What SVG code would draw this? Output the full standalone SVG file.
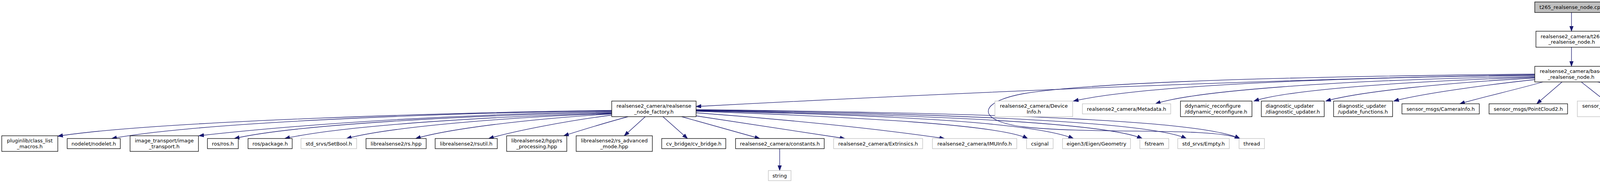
<svg xmlns="http://www.w3.org/2000/svg" width="5457" height="469" viewBox="0 0 5457 469">
<style>
.n rect{fill:#ffffff;stroke:#000000;stroke-width:1.3}
.g rect{fill:#ffffff;stroke:#bfbfbf;stroke-width:1.3}
.root rect{fill:#bfbfbf;stroke:#000000;stroke-width:1.3}
text{font-family:"DejaVu Sans","Liberation Sans",sans-serif;font-size:12.9px;fill:#000000;text-anchor:middle}
text.l{text-anchor:start}
#edges path{fill:none;stroke:#191970;stroke-width:1.3;marker-end:url(#ah)}
</style>
<defs>
<marker id="ah" markerUnits="userSpaceOnUse" markerWidth="16" markerHeight="12" refX="13" refY="5" orient="auto" viewBox="0 0 16 12">
<path d="M0,0.3 L13,5 L0,9.7 z" fill="#191970" stroke="#191970" stroke-width="1"/>
</marker>
</defs>
<rect x="0" y="0" width="5457" height="469" fill="#ffffff"/>
<g id="edges">
<path d="M4023,32 L4023,80"/>
<path d="M4023,121 L4023,170"/>
<path d="M3929,192 C3300,200 2400,240 1782,273"/>
<path d="M3929,190 C3300,196 2800,210 2620,240 C2500,262 2500,310 2620,325 C2800,345 3100,325 3174,355"/>
<path d="M3929,193 C3300,200 2900,225 2748,259"/>
<path d="M3929,196 C3400,205 3050,235 2958,266"/>
<path d="M3929,198 C3600,208 3300,230 3210,259"/>
<path d="M3929,200 C3700,212 3480,235 3394,259"/>
<path d="M3929,204 C3800,218 3640,240 3568,259"/>
<path d="M3950,210 C3880,230 3790,250 3737,266"/>
<path d="M3999,210 L3934,266"/>
<path d="M4048,210 L4110,259"/>
<path d="M4090,210 C4160,230 4230,250 4285,266"/>
<path d="M4115,207 C4250,225 4390,248 4452,266"/>
<path d="M4115,201 C4350,215 4580,240 4649,266"/>
<path d="M4115,197 C4450,210 4750,232 4833,259"/>
<path d="M4115,195 C4600,203 4980,225 5062,266"/>
<path d="M4115,193 C4700,198 5150,220 5214,266"/>
<path d="M4115,192 C4800,197 5240,220 5302,266"/>
<path d="M4115,191 C4900,195 5330,220 5390,266"/>
<path d="M1566,283 C1200,287 400,310 148,349"/>
<path d="M1566,284 C1100,290 500,315 286,355"/>
<path d="M1566,286 C1200,292 800,315 509,348"/>
<path d="M1566,288 C1200,295 750,320 600,355"/>
<path d="M1566,290 C1300,297 900,318 729,355"/>
<path d="M1566,291 C1300,300 1000,325 887,355"/>
<path d="M1566,292 C1350,305 1150,330 1064,355"/>
<path d="M1566,295 C1450,310 1320,335 1251,355"/>
<path d="M1608,299 C1560,312 1490,333 1443,348"/>
<path d="M1652,299 L1598,348"/>
<path d="M1697,299 L1760,355"/>
<path d="M1745,299 L1945,355"/>
<path d="M1782,297 L2163,355"/>
<path d="M1782,289 C2000,305 2250,330 2418,355"/>
<path d="M1782,285 C2200,300 2560,320 2631,355"/>
<path d="M1782,284 C2300,295 2650,315 2748,355"/>
<path d="M1782,283 C2400,295 2830,315 2924,355"/>
<path d="M1782,282 C2500,292 2950,315 3037,355"/>
<path d="M1782,281 C2600,290 3080,310 3174,355"/>
<path d="M1996,381 L1996,437"/>
</g>
<g id="node_root" class="root"><rect x="3929" y="5" width="188" height="27"/><text x="4023" y="23">t265_realsense_node.cpp</text></g>
<g id="node_t265" class="n"><rect x="3932" y="80" width="183" height="41"/><text x="4023.5" y="97.5">realsense2_camera/t265</text><text x="4023.5" y="111.5">_realsense_node.h</text></g>
<g id="node_base" class="n"><rect x="3929" y="170" width="186" height="40"/><text x="4022" y="186.5">realsense2_camera/base</text><text x="4022" y="201.5">_realsense_node.h</text></g>
<g id="node_factory" class="n"><rect x="1566" y="259" width="216" height="40"/><text x="1674" y="275.5">realsense2_camera/realsense</text><text x="1674" y="290.5">_node_factory.h</text></g>
<g id="node_deviceinfo" class="g"><rect x="2547" y="259" width="199" height="40"/><text x="2646.5" y="275.5">realsense2_camera/Device</text><text x="2646.5" y="290.5">Info.h</text></g>
<g id="node_metadata" class="g"><rect x="2771" y="266" width="226" height="26"/><text x="2884" y="283.5">realsense2_camera/Metadata.h</text></g>
<g id="node_ddynamic" class="n"><rect x="3022" y="259" width="183" height="40"/><text class="l" x="3033" y="275.5">ddynamic_reconfigure</text><text class="l" x="3033" y="290.5">/ddynamic_reconfigure.h</text></g>
<g id="node_diag" class="n"><rect x="3229" y="259" width="161" height="40"/><text class="l" x="3240" y="275.5">diagnostic_updater</text><text class="l" x="3240" y="290.5">/diagnostic_updater.h</text></g>
<g id="node_updatefn" class="n"><rect x="3414" y="259" width="151" height="40"/><text class="l" x="3425" y="275.5">diagnostic_updater</text><text class="l" x="3425" y="290.5">/update_functions.h</text></g>
<g id="node_camerainfo" class="n"><rect x="3589" y="266" width="198" height="26"/><text x="3688" y="283.5">sensor_msgs/CameraInfo.h</text></g>
<g id="node_pointcloud2" class="n"><rect x="3812" y="266" width="201" height="26"/><text x="3912.5" y="283.5">sensor_msgs/PointCloud2.h</text></g>
<g id="node_pc2iter" class="g"><rect x="4038" y="259" width="195" height="40"/><text x="4135.5" y="275.5">sensor_msgs/point_cloud2</text><text x="4135.5" y="290.5">_iterator.h</text></g>
<g id="node_imu" class="n"><rect x="4257" y="266" width="148" height="26"/><text x="4331" y="283.5">sensor_msgs/Imu.h</text></g>
<g id="node_odometry" class="g"><rect x="4429" y="266" width="167" height="26"/><text x="4512.5" y="283.5">nav_msgs/Odometry.h</text></g>
<g id="node_tf" class="n"><rect x="4621" y="266" width="194" height="26"/><text x="4718" y="283.5">tf/transform_broadcaster.h</text></g>
<g id="node_tf2" class="n"><rect x="4839" y="259" width="179" height="40"/><text x="4928.5" y="275.5">tf2_ros/static_transform</text><text x="4928.5" y="290.5">_broadcaster.h</text></g>
<g id="node_condvar" class="g"><rect x="5043" y="266" width="141" height="26"/><text x="5113.5" y="283.5">condition_variable</text></g>
<g id="node_queue" class="g"><rect x="5209" y="266" width="63" height="26"/><text x="5240.5" y="283.5">queue</text></g>
<g id="node_mutex" class="g"><rect x="5297" y="266" width="63" height="26"/><text x="5328.5" y="283.5">mutex</text></g>
<g id="node_atomic" class="g"><rect x="5385" y="266" width="66" height="26"/><text x="5418" y="283.5">atomic</text></g>
<g id="node_pluginlib" class="n"><rect x="4.5" y="348" width="143.5" height="40"/><text x="76.25" y="364.5">pluginlib/class_list</text><text x="76.25" y="379.5">_macros.h</text></g>
<g id="node_nodelet" class="n"><rect x="172" y="355" width="136" height="26"/><text x="240" y="372.5">nodelet/nodelet.h</text></g>
<g id="node_imagetransport" class="n"><rect x="333" y="348" width="175" height="40"/><text x="420.5" y="364.5">image_transport/image</text><text x="420.5" y="379.5">_transport.h</text></g>
<g id="node_rosh" class="n"><rect x="531" y="355" width="79" height="26"/><text x="570.5" y="372.5">ros/ros.h</text></g>
<g id="node_package" class="n"><rect x="635" y="355" width="113" height="26"/><text x="691.5" y="372.5">ros/package.h</text></g>
<g id="node_setbool" class="g"><rect x="770.5" y="355" width="142.5" height="26"/><text x="841.75" y="372.5">std_srvs/SetBool.h</text></g>
<g id="node_rshpp" class="n"><rect x="937" y="355" width="154" height="26"/><text x="1014" y="372.5">librealsense2/rs.hpp</text></g>
<g id="node_rsutil" class="n"><rect x="1114" y="355" width="159" height="26"/><text x="1193.5" y="372.5">librealsense2/rsutil.h</text></g>
<g id="node_rsprocessing" class="n"><rect x="1297" y="348" width="154" height="40"/><text x="1374" y="364.5">librealsense2/hpp/rs</text><text x="1374" y="379.5">_processing.hpp</text></g>
<g id="node_rsadvanced" class="n"><rect x="1475" y="348" width="195" height="40"/><text x="1572.5" y="364.5">librealsense2/rs_advanced</text><text x="1572.5" y="379.5">_mode.hpp</text></g>
<g id="node_cvbridge" class="n"><rect x="1694" y="355" width="164" height="26"/><text x="1776" y="372.5">cv_bridge/cv_bridge.h</text></g>
<g id="node_constants" class="n"><rect x="1883" y="355" width="227" height="26"/><text x="1996.5" y="372.5">realsense2_camera/constants.h</text></g>
<g id="node_extrinsics" class="g"><rect x="2134" y="355" width="228" height="26"/><text x="2248" y="372.5">realsense2_camera/Extrinsics.h</text></g>
<g id="node_imuinfo" class="g"><rect x="2387" y="355" width="216" height="26"/><text x="2495" y="372.5">realsense2_camera/IMUInfo.h</text></g>
<g id="node_csignal" class="g"><rect x="2628" y="355" width="68" height="26"/><text x="2662" y="372.5">csignal</text></g>
<g id="node_eigen" class="g"><rect x="2720" y="355" width="174" height="26"/><text x="2807" y="372.5">eigen3/Eigen/Geometry</text></g>
<g id="node_fstream" class="g"><rect x="2918" y="355" width="74" height="26"/><text x="2955" y="372.5">fstream</text></g>
<g id="node_empty" class="g"><rect x="3015" y="355" width="132" height="26"/><text x="3081" y="372.5">std_srvs/Empty.h</text></g>
<g id="node_thread" class="g"><rect x="3172" y="355" width="65" height="26"/><text x="3204.5" y="372.5">thread</text></g>
<g id="node_string" class="g"><rect x="1967" y="437" width="58" height="26"/><text x="1996" y="454.5">string</text></g>
</svg>
